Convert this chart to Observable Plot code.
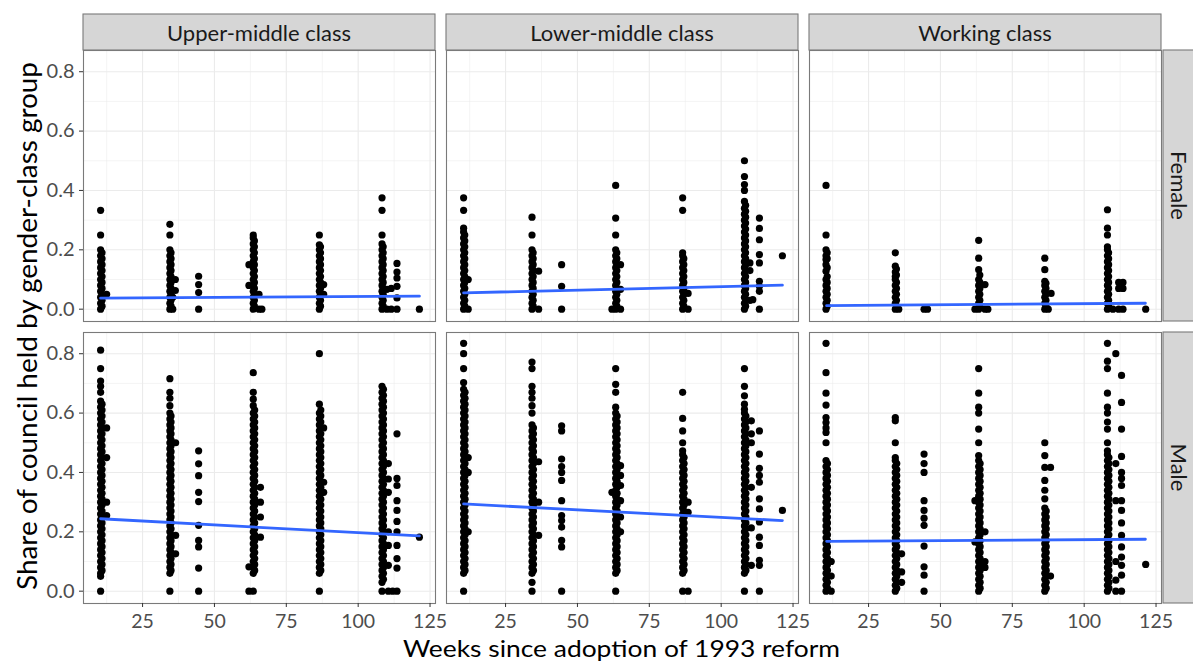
<!DOCTYPE html>
<html><head><meta charset="utf-8">
<script src="https://cdn.jsdelivr.net/npm/d3@7"></script>
<script src="https://cdn.jsdelivr.net/npm/@observablehq/plot@0.6"></script>
<style>body{margin:0;background:#fff}svg{display:block}</style>
</head><body><div id="chart"></div>
<script>
const classes = ["Upper-middle class", "Lower-middle class", "Working class"];
const genders = ["Female", "Male"];
const xMajor = [25, 50, 75, 100, 125];
const xMinor = [12.5, 37.5, 62.5, 87.5, 112.5];
const yMajor = [0, 0.2, 0.4, 0.6, 0.8];
const yMinor = [0.1, 0.3, 0.5, 0.7];
const xTitle = "Weeks since adoption of 1993 reform";
const yTitle = "Share of council held by gender-class group";

// fitted linear trend, start/end values by gender (rows) and class (columns)
const fitWeeks = [10.4, 121.3];
const fitStart = [[0.037, 0.055, 0.012], [0.244, 0.294, 0.168]];
const fitEnd = [[0.044, 0.081, 0.020], [0.186, 0.238, 0.175]];

// points: [week, [shares...]]
const upperFemale = [
  [10.4, [0,.02,.04,.06,.08,.1,.12,.14,.16,.18,.2,.25,.333]],
  [10.9, [.01,.03,.05,.07,.09,.11,.13,.15,.17,.19]],
  [12.5, [.05]],
  [34.5, [0,.02,.04,.06,.08,.1,.12,.14,.16,.18,.2,.25,.286]],
  [34.9, [.01,.03,.05,.07,.09,.11,.13,.15,.17,.19]],
  [35.5, [0,.04]],
  [36.4, [.1,.063]],
  [44.5, [0,.056,.083,.111]],
  [63.5, [0,.02,.04,.06,.08,.1,.12,.14,.16,.18,.2,.22,.24,.25]],
  [63.9, [.01,.03,.05,.07,.09,.11,.13,.15,.17,.19,.21,.23]],
  [62, [.15,.08]],
  [65.5, [0,.05]],
  [66.5, [0]],
  [86.5, [0,.02,.04,.06,.08,.1,.12,.14,.16,.18,.2,.217,.25]],
  [86.9, [.01,.03,.05,.07,.09,.11,.13,.15,.17,.19,.21]],
  [88, [.083,.05]],
  [108.3, [0,.02,.04,.06,.08,.1,.12,.14,.16,.18,.2,.22,.25,.333,.375]],
  [108.7, [.01,.03,.05,.07,.09,.11,.13,.15,.17,.19,.21]],
  [110, [.067,0]],
  [111.5, [0,.07]],
  [113.5, [0,.038,.077,.105,.125,.154]],
  [121.3, [0]]
];
const lowerFemale = [
  [10.4, [0,.02,.04,.06,.08,.1,.12,.14,.16,.18,.2,.22,.24,.26,.273,.333,.375]],
  [10.8, [.01,.03,.05,.07,.09,.11,.13,.15,.17,.19,.21,.23,.25]],
  [12, [.1,0]],
  [34.2, [0,.02,.04,.06,.08,.1,.12,.14,.16,.18,.2,.25,.31]],
  [34.6, [.01,.03,.05,.07,.09,.11,.13,.15,.17,.19]],
  [36.5, [.128,0]],
  [44.5, [0,.077,.15]],
  [63.3, [0,.02,.04,.06,.08,.1,.12,.14,.16,.18,.2,.25,.307,.417]],
  [63.7, [.01,.03,.05,.07,.09,.11,.13,.15,.17,.19]],
  [62, [0]],
  [65, [.15,.067,0]],
  [86.6, [0,.02,.04,.06,.08,.1,.12,.14,.16,.18,.19,.333,.375]],
  [87, [.01,.03,.05,.07,.09,.11,.13,.15,.17]],
  [88.5, [.053,0]],
  [108.1, [0,.02,.04,.06,.08,.1,.12,.14,.16,.18,.2,.22,.24,.26,.28,.3,.32,.34,.363,.4,.42,.447,.5]],
  [108.5, [.01,.03,.05,.07,.09,.11,.13,.15,.17,.19,.21,.23,.25,.27,.29,.31,.33,.35]],
  [110, [.156,.13,.03]],
  [111, [.032]],
  [113.3, [0,.06,.077,.094,.156,.184,.234,.272,.307]],
  [121.3, [.18]]
];
const workingFemale = [
  [10.2, [0,.02,.04,.06,.08,.1,.128,.15,.167,.18,.2,.25,.417]],
  [10.6, [.01,.03,.05,.07,.09,.11,.14,.17,.19]],
  [34.3, [0,.02,.04,.06,.08,.1,.11,.125,.145,.19]],
  [34.7, [.01,.03,.05,.07,.09,.115,.135]],
  [35.5, [0]],
  [44.3, [0]],
  [45.5, [0]],
  [63.3, [0,.02,.04,.06,.08,.1,.133,.172,.232]],
  [63.7, [.01,.03,.05,.07,.09,.115]],
  [62, [0]],
  [65.5, [.083,0]],
  [66.5, [0]],
  [86.3, [0,.02,.04,.06,.08,.094,.133,.172]],
  [86.7, [.01,.03,.05,.07,.087]],
  [87.5, [0]],
  [88.5, [.053]],
  [108.1, [0,.02,.04,.06,.08,.1,.12,.14,.16,.18,.2,.21,.25,.273,.335]],
  [108.5, [.01,.03,.05,.07,.09,.11,.13,.15,.17,.19]],
  [110, [0]],
  [112, [0,.07,.09]],
  [113.5, [.09,.07,0]],
  [121.4, [0]]
];
const upperMale = [
  [10.4, [0,.05,.06,.08,.1,.12,.14,.16,.18,.2,.22,.24,.26,.28,.3,.32,.34,.36,.38,.4,.42,.44,.46,.48,.5,.52,.54,.56,.58,.6,.62,.64,.67,.69,.708,.75,.812]],
  [10.9, [.07,.09,.11,.13,.15,.17,.19,.21,.23,.25,.27,.29,.31,.33,.35,.37,.39,.41,.43,.45,.47,.49,.51,.53,.55,.57,.59,.61,.63]],
  [12.5, [.55,.45,.3,.255]],
  [34.5, [0,.06,.08,.1,.12,.14,.16,.18,.2,.22,.24,.26,.28,.3,.32,.34,.36,.38,.4,.42,.44,.46,.48,.5,.52,.54,.56,.58,.6,.625,.65,.67,.716]],
  [34.9, [.07,.09,.11,.13,.15,.17,.19,.21,.23,.25,.27,.29,.31,.33,.35,.37,.39,.41,.43,.45,.47,.49,.51,.53,.55,.57,.59]],
  [36.5, [.5,.188,.126]],
  [44.5, [0,.078,.149,.171,.222,.302,.333,.389,.429,.473]],
  [63.5, [0,.06,.08,.1,.12,.14,.16,.18,.2,.22,.24,.26,.28,.3,.32,.34,.36,.38,.4,.42,.44,.46,.48,.5,.52,.54,.56,.58,.6,.625,.647,.67,.736]],
  [64, [.07,.09,.11,.13,.15,.17,.19,.21,.23,.25,.27,.29,.31,.33,.35,.37,.39,.41,.43,.45,.47,.49,.51,.53,.55,.57,.59,.61]],
  [62, [.082,0]],
  [66, [.35,.3,.25,.182]],
  [86.5, [0,.06,.08,.1,.12,.14,.16,.18,.2,.22,.24,.26,.28,.3,.32,.34,.36,.38,.4,.42,.44,.46,.48,.5,.52,.54,.56,.58,.6,.63,.8]],
  [87, [.07,.09,.11,.13,.15,.17,.19,.21,.23,.25,.27,.29,.31,.33,.35,.37,.39,.41,.43,.45,.47,.49,.51,.53,.55,.57,.59,.61]],
  [88, [.55,.367,.333]],
  [108.3, [0,.03,.05,.07,.09,.11,.13,.15,.17,.19,.21,.23,.25,.27,.29,.31,.33,.35,.37,.39,.41,.43,.45,.47,.49,.51,.53,.55,.57,.59,.61,.63,.65,.67,.69]],
  [108.8, [.04,.06,.08,.1,.12,.14,.16,.18,.2,.22,.24,.26,.28,.3,.32,.34,.36,.38,.4,.42,.44,.46,.48,.5,.52,.54,.56,.58,.6,.62,.64,.66,.68]],
  [110.5, [.43,.378,.333,.2,.154,.087,0]],
  [112, [0]],
  [113.5, [0,.078,.11,.154,.2,.235,.272,.305,.356,.38,.53]],
  [121.3, [.182]]
];
const lowerMale = [
  [10.4, [0,.06,.08,.1,.12,.14,.16,.18,.2,.22,.24,.26,.28,.3,.32,.34,.36,.38,.4,.42,.44,.46,.48,.5,.52,.54,.56,.58,.6,.62,.64,.66,.68,.703,.75,.8,.835]],
  [10.9, [.07,.09,.11,.13,.15,.17,.19,.21,.23,.25,.27,.29,.31,.33,.35,.37,.39,.41,.43,.45,.47,.49,.51,.53,.55,.57,.59,.61,.63,.65,.67]],
  [12, [.45,.4,.2]],
  [34.2, [0,.03,.06,.08,.1,.12,.14,.16,.18,.2,.22,.24,.26,.28,.3,.32,.34,.36,.38,.4,.42,.44,.46,.48,.5,.52,.54,.56,.6,.625,.65,.67,.69,.75,.772]],
  [34.7, [.07,.09,.11,.13,.15,.17,.19,.21,.23,.25,.27,.29,.31,.33,.35,.37,.39,.41,.43,.45,.47,.49,.51,.53,.55]],
  [36.5, [.436,.3,.188]],
  [44.5, [0,.149,.171,.216,.238,.255,.305,.373,.4,.42,.445,.54,.557]],
  [63.3, [0,.06,.08,.1,.12,.14,.16,.18,.2,.22,.24,.26,.28,.3,.32,.34,.36,.38,.4,.42,.44,.46,.48,.5,.52,.54,.56,.58,.6,.62,.67,.697,.75]],
  [63.8, [.07,.09,.11,.13,.15,.17,.19,.21,.23,.25,.27,.29,.31,.33,.35,.37,.39,.41,.43,.45,.47,.49,.51,.53,.55,.57,.59]],
  [62, [.333]],
  [65, [.423,.39,.356,.305,.25,.2]],
  [86.6, [0,.06,.08,.1,.12,.14,.16,.18,.2,.22,.24,.26,.28,.3,.32,.34,.36,.38,.4,.42,.44,.46,.473,.5,.54,.582,.67]],
  [87.1, [.07,.09,.11,.13,.15,.17,.19,.21,.23,.25,.27,.29,.31,.33,.35,.37,.39,.41,.43,.45]],
  [88.5, [.3,.266,0]],
  [108.1, [0,.06,.08,.1,.12,.14,.16,.18,.2,.22,.24,.26,.28,.3,.32,.34,.36,.38,.4,.42,.44,.46,.48,.5,.52,.54,.56,.58,.6,.613,.63,.658,.69,.75]],
  [108.6, [.07,.09,.11,.13,.15,.17,.19,.21,.23,.25,.27,.29,.31,.33,.35,.37,.39,.41,.43,.45,.47,.49,.51,.53,.55,.57,.59]],
  [110.5, [.574,.53,.5,.35,.213,.087]],
  [113.3, [0,.087,.104,.154,.182,.233,.277,.311,.367,.39,.414,.462,.54]],
  [121.3, [.272]]
];
const workingMale = [
  [10.2, [0,.02,.04,.06,.08,.1,.12,.14,.16,.18,.2,.22,.24,.26,.28,.3,.32,.34,.36,.38,.4,.42,.44,.5,.535,.55,.568,.585,.627,.667,.736,.835]],
  [10.7, [.01,.03,.05,.07,.09,.11,.13,.15,.17,.19,.21,.23,.25,.27,.29,.31,.33,.35,.37,.39,.41,.43]],
  [12, [.1,.051,0]],
  [34.3, [0,.02,.04,.06,.08,.1,.12,.14,.16,.18,.2,.22,.24,.26,.28,.3,.32,.34,.36,.38,.4,.42,.44,.45,.5,.574,.585]],
  [34.8, [.01,.03,.05,.07,.09,.11,.13,.15,.17,.19,.21,.23,.25,.27,.29,.31,.33,.35,.37,.39,.41,.43]],
  [36.5, [.126,.065,.03]],
  [44.3, [0,.054,.082,.152,.222,.246,.272,.305,.4,.43,.462]],
  [63.3, [0,.02,.04,.06,.08,.1,.12,.14,.16,.18,.2,.22,.24,.26,.28,.3,.32,.34,.36,.38,.4,.42,.44,.457,.5,.546,.6,.62,.667,.75]],
  [63.8, [.01,.03,.05,.07,.09,.11,.13,.15,.17,.19,.21,.23,.25,.27,.29,.31,.33,.35,.37,.39,.41,.43]],
  [62, [.305,.166]],
  [65.5, [.2,.1,.08]],
  [86.3, [0,.02,.04,.06,.08,.1,.12,.14,.16,.18,.2,.22,.24,.26,.28,.311,.34,.373,.417,.457,.5]],
  [86.8, [.01,.03,.05,.07,.09,.11,.13,.15,.17,.19,.21,.23,.25,.27]],
  [88.3, [.417,.051]],
  [108.1, [0,.02,.04,.06,.08,.1,.12,.14,.16,.18,.2,.22,.24,.26,.28,.3,.32,.34,.36,.38,.4,.42,.44,.46,.473,.5,.546,.57,.6,.62,.667,.75,.775,.835]],
  [108.6, [.01,.03,.05,.07,.09,.11,.13,.15,.17,.19,.21,.23,.25,.27,.29,.31,.33,.35,.37,.39,.41,.43,.45]],
  [111, [.8,.43,.305,.1,.037,0]],
  [113, [0,.054,.087,.115,.149,.188,.23,.272,.305,.356,.38,.4,.454,.546,.636,.727]],
  [121.4, [.09]]
];

const panels = [
  [classes[0], genders[0], upperFemale], [classes[1], genders[0], lowerFemale], [classes[2], genders[0], workingFemale],
  [classes[0], genders[1], upperMale], [classes[1], genders[1], lowerMale], [classes[2], genders[1], workingMale]
];
const points = [];
for (const [cls, gender, cols] of panels)
  for (const [week, vals] of cols)
    for (const share of vals) points.push({cls, gender, week, share});

const fits = [];
genders.forEach((g, j) => classes.forEach((c, i) => {
  fits.push({cls: c, gender: g, week: fitWeeks[0], share: fitStart[j][i]});
  fits.push({cls: c, gender: g, week: fitWeeks[1], share: fitEnd[j][i]});
}));

const FONT = "Lato, 'DejaVu Sans', sans-serif";
const grid = "#EBEBEB";
const plot = Plot.plot({
  width: 1193, height: 661,
  marginLeft: 82, marginRight: 30, marginTop: 50, marginBottom: 57,
  style: {fontFamily: FONT, background: "#fff", overflow: "visible"},
  fx: {domain: classes, paddingInner: 0.03, paddingOuter: 0, axis: null, label: null},
  fy: {domain: genders, paddingInner: 0.039, paddingOuter: 0, axis: null, label: null},
  x: {domain: [4.45, 126.9], axis: null},
  y: {domain: [-0.0415, 0.8715], axis: null},
  marks: [
    Plot.gridX(xMinor, {stroke: grid, strokeOpacity: 1, strokeWidth: 0.55}),
    Plot.gridY(yMinor, {stroke: grid, strokeOpacity: 1, strokeWidth: 0.55}),
    Plot.gridX(xMajor, {stroke: grid, strokeOpacity: 1, strokeWidth: 1.1}),
    Plot.gridY(yMajor, {stroke: grid, strokeOpacity: 1, strokeWidth: 1.1}),
    Plot.dot(points, {x: "week", y: "share", fx: "cls", fy: "gender", r: 3.6, fill: "#000", stroke: null}),
    Plot.line(fits, {x: "week", y: "share", fx: "cls", fy: "gender", z: null, stroke: "#3366FF", strokeWidth: 2.8}),
    Plot.frame({stroke: "#7a7a7a", strokeWidth: 1.1}),
    Plot.axisY(yMajor, {anchor: "left", label: null, tickSize: 4, tickPadding: 5, fontSize: 20,
      stroke: "#333", fill: "#4D4D4D", tickFormat: d => d.toFixed(1)}),
    Plot.axisX(xMajor, {anchor: "bottom", label: null, tickSize: 4, tickPadding: 7, fontSize: 19.5,
      stroke: "#333", fill: "#4D4D4D", tickFormat: d => String(d)})
  ]
});
document.getElementById("chart").append(plot);

// facet strips and titles placed through the plot's own facet scales
const svg = d3.select(plot);
const fx = plot.scale("fx"), fy = plot.scale("fy");
const stripFill = "#D6D6D6", stripStroke = "#7a7a7a";
const sg = svg.append("g");
classes.forEach(c => {
  const x0 = fx.apply(c), w = fx.bandwidth;
  sg.append("rect").attr("x", x0).attr("y", 14).attr("width", w).attr("height", 36)
    .attr("fill", stripFill).attr("stroke", stripStroke).attr("stroke-width", 1.1);
  sg.append("text").attr("x", x0 + w / 2).attr("y", 32).attr("text-anchor", "middle")
    .attr("dominant-baseline", "central").attr("font-size", 22).attr("fill", "#1A1A1A")
    .attr("font-family", FONT).text(c);
});
genders.forEach(g => {
  const y0 = fy.apply(g), h = fy.bandwidth;
  sg.append("rect").attr("x", 1163).attr("y", y0).attr("width", 34).attr("height", h)
    .attr("fill", stripFill).attr("stroke", stripStroke).attr("stroke-width", 1.1);
  sg.append("text").attr("transform", `translate(${1179},${y0 + h / 2}) rotate(90)`)
    .attr("text-anchor", "middle").attr("dominant-baseline", "central")
    .attr("font-size", 22).attr("fill", "#1A1A1A").attr("font-family", FONT).text(g);
});
svg.append("text").attr("x", 621.5).attr("y", 657).attr("text-anchor", "middle")
  .attr("font-size", 24).attr("fill", "#000").attr("font-family", FONT)
  .attr("textLength", 437).attr("lengthAdjust", "spacingAndGlyphs").text(xTitle);
svg.append("text").attr("transform", `translate(37,326) rotate(-90)`)
  .attr("text-anchor", "middle").attr("font-size", 26).attr("fill", "#000")
  .attr("font-family", FONT).attr("textLength", 528).attr("lengthAdjust", "spacingAndGlyphs").text(yTitle);
</script></body></html>
